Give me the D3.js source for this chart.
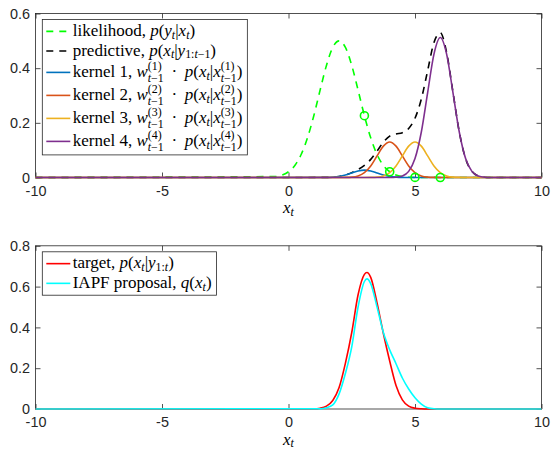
<!DOCTYPE html>
<html>
<head>
<meta charset="utf-8">
<script src="https://cdn.jsdelivr.net/npm/d3@7/dist/d3.min.js"></script>
<style>
  body { margin: 0; background: #fff; }
  text { white-space: pre; }
</style>
</head>
<body>
<div class="chart"></div>
<script>
// values
var xTicks = [-10, -5, 0, 5, 10];
var yTicksTop = [0, 0.2, 0.4, 0.6];
var yTicksBottom = [0, 0.2, 0.4, 0.6, 0.8];

// likelihood p(y_t|x_t)
var likeX = [-10, -0.5, -0.25, 0, 0.25, 0.5, 0.75, 1, 1.25, 1.5, 1.75, 2, 2.25, 2.5, 2.75, 3, 3.25, 3.5, 3.75, 4, 4.25, 4.5, 4.75, 5, 10];
var likeY = [0, 0.0035, 0.009, 0.021, 0.044, 0.084, 0.145, 0.226, 0.32, 0.41, 0.476, 0.5, 0.476, 0.41, 0.32, 0.226, 0.145, 0.084, 0.044, 0.021, 0.009, 0.0035, 0.001, 0.0004, 0];

// particles where the likelihood is evaluated
var partX = [3, 4, 5, 6];
var partY = [0.226, 0.021, 0.0004, 0];

// kernels and predictive share one x grid
var kernX = [-10, 1.5, 1.75, 2, 2.25, 2.5, 2.75, 3, 3.25, 3.5, 3.75, 4, 4.25, 4.5, 4.75, 5, 5.25, 5.5, 5.75, 6, 6.25, 6.5, 6.75, 7, 7.25, 7.5, 7.75, 8, 8.25, 10];
var kernel1 = [0, 0.0003, 0.0012, 0.0037, 0.0088, 0.0164, 0.0238, 0.027, 0.0238, 0.0164, 0.0088, 0.0037, 0.0012, 0.0003, 0.0001, 0, 0, 0, 0, 0, 0, 0, 0, 0, 0, 0, 0, 0, 0, 0];
var kernel2 = [0, 0, 0, 0, 0.0003, 0.0014, 0.0057, 0.0176, 0.0423, 0.0789, 0.1147, 0.13, 0.1147, 0.0789, 0.0423, 0.0176, 0.0057, 0.0014, 0.0003, 0, 0, 0, 0, 0, 0, 0, 0, 0, 0, 0];
var kernel3 = [0, 0, 0, 0, 0, 0, 0, 0, 0.0003, 0.0014, 0.0057, 0.0176, 0.0423, 0.0789, 0.1147, 0.13, 0.1147, 0.0789, 0.0423, 0.0176, 0.0057, 0.0014, 0.0003, 0, 0, 0, 0, 0, 0, 0];
var kernel4 = [0, 0, 0, 0, 0, 0, 0, 0, 0, 0, 0, 0.0002, 0.0011, 0.0056, 0.0225, 0.0691, 0.1664, 0.3108, 0.4516, 0.512, 0.4516, 0.3108, 0.1664, 0.0691, 0.0225, 0.0056, 0.0011, 0.0002, 0, 0];
var predictive = [0, 0.0003, 0.0012, 0.0037, 0.0091, 0.0178, 0.0295, 0.0446, 0.0664, 0.0967, 0.1292, 0.1515, 0.1593, 0.1637, 0.1796, 0.2167, 0.2868, 0.3911, 0.4942, 0.5296, 0.4573, 0.3122, 0.1667, 0.0691, 0.0225, 0.0056, 0.0011, 0.0002, 0, 0];

// bottom panel
var targetX = [-10, 1, 1.25, 1.5, 1.75, 2, 2.25, 2.5, 2.75, 3, 3.1, 3.25, 3.5, 3.75, 4, 4.25, 4.5, 4.75, 5, 5.25, 5.5, 10];
var targetY = [0, 0.001, 0.004, 0.014, 0.042, 0.105, 0.225, 0.375, 0.56, 0.66, 0.669, 0.645, 0.52, 0.37, 0.235, 0.115, 0.045, 0.014, 0.004, 0.0012, 0.0003, 0];
var propX = [-10, 1.25, 1.5, 1.75, 2, 2.25, 2.5, 2.75, 3, 3.1, 3.25, 3.5, 3.75, 4, 4.25, 4.5, 4.75, 5, 5.25, 5.5, 5.75, 6, 10];
var propY = [0, 0.0015, 0.006, 0.02, 0.074, 0.175, 0.305, 0.5, 0.625, 0.638, 0.615, 0.5, 0.375, 0.29, 0.222, 0.152, 0.098, 0.055, 0.024, 0.006, 0.001, 0, 0];

var topLabels = [
  "likelihood, $p(y_t|x_t)$",
  "predictive, $p(x_t|y_{1:t-1})$",
  "kernel 1, $w_{t-1}^{(1)} \\cdot p(x_t|x_{t-1}^{(1)})$",
  "kernel 2, $w_{t-1}^{(2)} \\cdot p(x_t|x_{t-1}^{(2)})$",
  "kernel 3, $w_{t-1}^{(3)} \\cdot p(x_t|x_{t-1}^{(3)})$",
  "kernel 4, $w_{t-1}^{(4)} \\cdot p(x_t|x_{t-1}^{(4)})$"
];
var bottomLabels = ["target, $p(x_t|y_{1:t})$", "IAPF proposal, $q(x_t)$"];
var xLabel = "$x_t$";

var green = "#00ff00", blue = "#0072bd", orange = "#d95319", yellow = "#edb120", purple = "#7e2f8e";
var axisColor = "#262626";
var serif = "'Liberation Serif', 'Times New Roman', serif";
var sans = "'Liberation Sans', Arial, Helvetica, sans-serif";
var legendSize = 17;

var width = 552, height = 450;

var svg = d3.select(".chart").append("svg")
    .attr("width", width)
    .attr("height", height);

var x = d3.scaleLinear().domain([-10, 10]).range([35.5, 541.5]);
var yTop = d3.scaleLinear().domain([0, 0.6]).range([177.5, 13.5]);
var yBot = d3.scaleLinear().domain([0, 0.8]).range([409, 245.8]);

// --- tiny TeX-ish text layout ---
function runs(s) {
  var out = [];
  s.replace(/-/g, "\u2212").split("").forEach(function(ch) {
    var it = /[a-z]/i.test(ch);
    var last = out[out.length - 1];
    if (last && last.it == it) last.t += ch;
    else out.push({t: ch, it: it});
  });
  return out;
}

function mathAtoms(label) {
  var atoms = [];
  label.split("$").forEach(function(p, i) {
    if (i % 2 == 0) { if (p) atoms.push({base: [{t: p, it: false}]}); return; }
    var j = 0;
    while (j < p.length) {
      var c = p[j];
      if (p.startsWith("\\cdot", j)) { atoms.push({base: [{t: "\u2009\u00b7\u2009", it: false}]}); j += 5; continue; }
      if (c == "_" || c == "^") {
        var grp;
        j++;
        if (p[j] == "{") { var e = p.indexOf("}", j); grp = p.slice(j + 1, e); j = e + 1; }
        else { grp = p[j]; j++; }
        atoms[atoms.length - 1][c == "_" ? "sub" : "sup"] = runs(grp);
        continue;
      }
      atoms.push({base: runs(c)});
      j++;
    }
  });
  return atoms;
}

function putRuns(g, rs, px, py, size) {
  var t = g.append("text")
      .attr("x", px).attr("y", py)
      .style("font-family", serif)
      .style("font-size", size + "px")
      .attr("fill", "#000");
  rs.forEach(function(r) {
    t.append("tspan").text(r.t).style("font-style", r.it ? "italic" : "normal");
  });
  return t.node().getComputedTextLength();
}

function drawMath(g, label, px, py, size) {
  var cx = px;
  mathAtoms(label).forEach(function(a) {
    cx += putRuns(g, a.base, cx, py, size);
    var w = 0;
    if (a.sub) w = putRuns(g, a.sub, cx, py + size * (a.sup ? 0.28 : 0.17), size * 0.7);
    if (a.sup) w = Math.max(w, putRuns(g, a.sup, cx, py - size * 0.38, size * 0.7));
    cx += w;
  });
  return cx - px;
}

// --- axes ---
function drawAxes(y, yTicks) {
  var y0 = y.range()[0], y1 = y.range()[1];
  var x0 = x.range()[0], x1 = x.range()[1];
  var g = svg.append("g");

  g.append("g").attr("transform", "translate(0," + y0 + ")")
    .call(d3.axisBottom(x).tickValues(xTicks).tickSizeInner(-5).tickSizeOuter(0).tickPadding(8).tickFormat(String));
  g.append("g").attr("transform", "translate(0," + y1 + ")")
    .call(d3.axisTop(x).tickValues(xTicks).tickSizeInner(-5).tickSizeOuter(0).tickFormat(""));
  g.append("g").attr("transform", "translate(" + x0 + ",0)")
    .call(d3.axisLeft(y).tickValues(yTicks).tickSizeInner(-5).tickSizeOuter(0).tickPadding(5.5).tickFormat(String));
  g.append("g").attr("transform", "translate(" + x1 + ",0)")
    .call(d3.axisRight(y).tickValues(yTicks).tickSizeInner(-5).tickSizeOuter(0).tickFormat(""));

  g.selectAll(".domain").remove();
  g.selectAll(".tick line").attr("stroke", axisColor).attr("stroke-width", 0.8);
  g.selectAll(".tick text")
    .attr("fill", axisColor)
    .style("font-family", sans)
    .style("font-size", "14.4px");

  g.append("rect")
    .attr("x", x0).attr("y", y1)
    .attr("width", x1 - x0).attr("height", y0 - y1)
    .attr("fill", "none")
    .attr("stroke", axisColor)
    .attr("stroke-width", 0.8);

  var lg = svg.append("g");
  var w = drawMath(lg, xLabel, (x0 + x1) / 2, y0 + 35.5, 17);
  lg.attr("transform", "translate(" + (-w / 2) + ",0)");
}

function drawLine(xs, ys, y, color, dash) {
  var line = d3.line()
      .x(function(d) { return x(d[0]); })
      .y(function(d) { return y(d[1]); })
      .curve(d3.curveMonotoneX);
  svg.append("path")
    .datum(d3.zip(xs, ys))
    .attr("d", line)
    .attr("fill", "none")
    .attr("stroke", color)
    .attr("stroke-width", 1.6)
    .attr("stroke-dasharray", dash || null);
}

function drawLegend(items, y) {
  var lx = x.range()[0] + 6.8, ly = y.range()[1] + 6;
  var g = svg.append("g");
  var box = g.append("rect").attr("x", lx).attr("y", ly)
      .attr("fill", "#fff").attr("stroke", axisColor).attr("stroke-width", 0.8);
  var pad = 2, cy = ly + pad, maxW = 0;
  items.forEach(function(it) {
    var h = it.label.indexOf("^") >= 0 ? 23 : 19.7;
    var mid = cy + h / 2;
    g.append("line")
      .attr("x1", lx + 4).attr("x2", lx + 28)
      .attr("y1", mid).attr("y2", mid)
      .attr("stroke", it.color)
      .attr("stroke-width", 1.6)
      .attr("stroke-dasharray", it.dash || null);
    maxW = Math.max(maxW, drawMath(g, it.label, lx + 30.4, mid + 4.5, legendSize));
    cy += h;
  });
  box.attr("width", 30.4 + maxW + 5).attr("height", cy + pad - ly);
}

// top panel
drawAxes(yTop, yTicksTop);
drawLine(likeX, likeY, yTop, green, "7,6");
drawLine(kernX, predictive, yTop, "#000", "7,6");
drawLine(kernX, kernel1, yTop, blue);
drawLine(kernX, kernel2, yTop, orange);
drawLine(kernX, kernel3, yTop, yellow);
drawLine(kernX, kernel4, yTop, purple);

svg.append("g").selectAll("circle")
  .data(d3.zip(partX, partY))
  .enter()
  .append("circle")
  .attr("cx", function(d) { return x(d[0]); })
  .attr("cy", function(d) { return yTop(d[1]); })
  .attr("r", 4)
  .attr("fill", "none")
  .attr("stroke", green)
  .attr("stroke-width", 1.6);

drawLegend([
  {label: topLabels[0], color: green, dash: "7,6"},
  {label: topLabels[1], color: "#000", dash: "7,6"},
  {label: topLabels[2], color: blue},
  {label: topLabels[3], color: orange},
  {label: topLabels[4], color: yellow},
  {label: topLabels[5], color: purple}
], yTop);

// bottom panel
drawAxes(yBot, yTicksBottom);
drawLine(targetX, targetY, yBot, "#ff0000");
drawLine(propX, propY, yBot, "#00ffff");

drawLegend([
  {label: bottomLabels[0], color: "#ff0000"},
  {label: bottomLabels[1], color: "#00ffff"}
], yBot);
</script>
</body>
</html>
